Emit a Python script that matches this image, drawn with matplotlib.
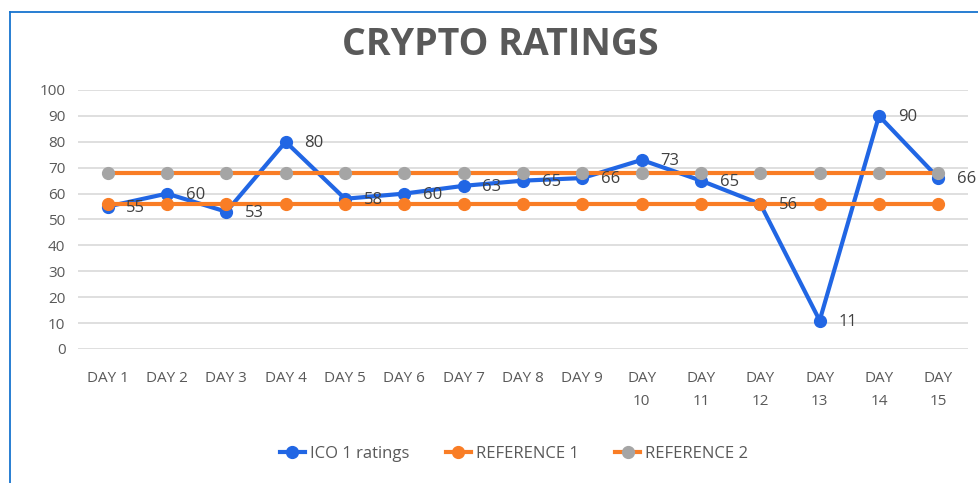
import matplotlib
matplotlib.use("Agg")
import matplotlib.pyplot as plt
from matplotlib.lines import Line2D

days = ["DAY 1", "DAY 2", "DAY 3", "DAY 4", "DAY 5", "DAY 6", "DAY 7", "DAY 8",
        "DAY 9", "DAY\n10", "DAY\n11", "DAY\n12", "DAY\n13", "DAY\n14", "DAY\n15"]
ico_ratings = [55, 60, 53, 80, 58, 60, 63, 65, 66, 73, 65, 56, 11, 90, 66]
reference_1 = [56] * 15
reference_2 = [68] * 15
y_ticks = [0, 10, 20, 30, 40, 50, 60, 70, 80, 90, 100]

BLUE = "#2166E4"
ORANGE = "#F97D25"
GRAY = "#A5A5A5"
TXT = "#595959"

plt.rcParams['font.family'] = ['Open Sans', 'DejaVu Sans']

W, H = 979, 483
fig = plt.figure(figsize=(W / 100, H / 100), dpi=100)

# outer frame (blue top and left border)
fig.add_artist(Line2D([9.5 / W, 1], [1 - 12 / H, 1 - 12 / H], color="#1774CF", lw=1.3, transform=fig.transFigure))
fig.add_artist(Line2D([9.5 / W, 9.5 / W], [0, 1 - 12 / H], color="#1774CF", lw=1.3, transform=fig.transFigure))

ax = fig.add_axes([78 / W, (H - 349) / H, (968 - 78) / W, (349 - 90) / H])
x = list(range(len(days)))

ax.plot(x, ico_ratings, color=BLUE, lw=3, marker='o', ms=8.5, zorder=3, label="ICO 1 ratings")
ax.plot(x, reference_1, color=ORANGE, lw=3, marker='o', ms=8.5, zorder=4, label="REFERENCE 1")
ax.plot(x, reference_2, color=ORANGE, lw=3, marker='o', ms=8.5, mfc=GRAY, mec=GRAY, zorder=5, label="REFERENCE 2")

for xi, v in zip(x, ico_ratings):
    ax.annotate(str(v), (xi, v), xytext=(13.5, -1), textcoords='offset points',
                ha='left', va='center', fontsize=12, color="#404040", zorder=6)

ax.set_xlim(-0.5, len(days) - 0.5)
ax.set_ylim(0, 100)
ax.set_yticks(y_ticks)
ax.set_xticks(x)
ax.set_xticklabels(days, fontsize=11, color=TXT, linespacing=1.75, va='top')
ax.tick_params(axis='y', labelsize=11, labelcolor=TXT, length=0, pad=9)
ax.tick_params(axis='x', length=0, pad=16)
ax.grid(axis='y', color="#D9D9D9", lw=1.2)
ax.set_axisbelow(True)
for s in ax.spines.values():
    s.set_visible(False)

fig.text(500 / W, 1 - 45 / H, "CRYPTO RATINGS", ha='center', va='center',
         fontsize=27, fontweight='bold', color=TXT)

leg = fig.legend(loc='center', bbox_to_anchor=(514 / W, 1 - 454 / H), ncol=3, frameon=False,
                 fontsize=12, handlelength=1.5, handletextpad=0.3, columnspacing=2.2)
for t in leg.get_texts():
    t.set_color(TXT)

fig.savefig("out.png", dpi=100)
